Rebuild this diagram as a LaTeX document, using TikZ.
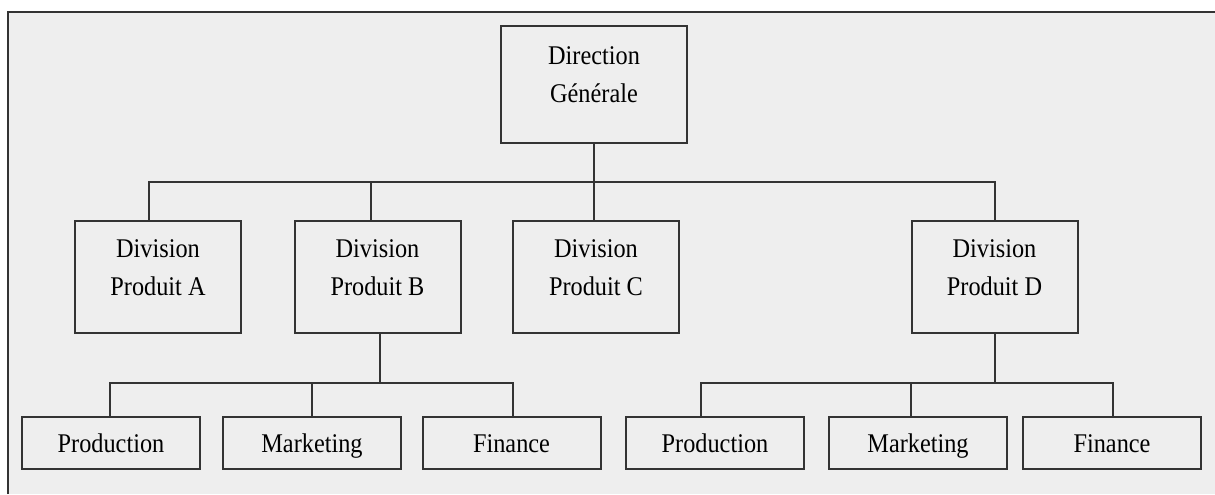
\documentclass[tikz,border=0pt]{standalone}
\usepackage{fontspec}
\setmainfont{Liberation Serif}[FakeStretch=0.9]
\definecolor{fond}{HTML}{EEEEEE}
\definecolor{trait}{HTML}{333333}
\tikzset{
  bloc/.style={draw=trait, line width=1pt, fill=fond, align=center, inner sep=0pt,
    font=\fontsize{13.5}{19}\selectfont},
  direction/.style={bloc, minimum width=93pt, minimum height=58.5pt, text height=28pt, text depth=10pt},
  division/.style={bloc, minimum width=83pt, minimum height=56pt, text height=28pt, text depth=10pt},
  service/.style={bloc, minimum width=89pt, minimum height=26pt, text height=9pt, text depth=0pt},
  lien/.style={draw=trait, line width=1pt}
}

\begin{document}
\begin{tikzpicture}[x=0.5pt, y=-0.5pt]
    \useasboundingbox (0,0) rectangle (1215,494);
    % cadre
    \fill[fond] (8,12) rectangle (1215,494);
    \draw[trait, line width=0.9pt] (8,494) -- (8,12) -- (1215,12);

    \node[direction] (dg) at (594,84.5) {Direction\\Générale};
    \foreach \nom / \x / \lettre in {da/158/A, db/377.5/B, dc/596/C, dd/994.5/D} {
      \node[division] (\nom) at (\x,277) {Division\\Produit \lettre};
    }
    \foreach \nom / \x / \texte in {pb1/111/Production, pb2/312/Marketing, pb3/511.5/Finance,
                                    pd1/715/Production, pd2/918/Marketing, pd3/1112/Finance} {
      \node[service] (\nom) at (\x,443) {\texte};
    }

    \coordinate (bus) at (0,181.5);
    \coordinate (busb) at (0,382.5);
    \coordinate (busd) at (0,382.5);

    % niveau 1
    \draw[lien] (dg.south) -- (dg.south |- dc.north);
    \draw[lien] ([xshift=-4.5pt]da.north) |- (bus -| dd.north) -- (dd.north);
    \draw[lien] ([xshift=-3.25pt]db.north) -- ([xshift=-3.25pt]db.north |- bus);

    % niveau 2
    \draw[lien] ([xshift=1pt]db.south) -- ([xshift=1pt]db.south |- busb);
    \draw[lien] ([xshift=-0.5pt]pb1.north) |- ([xshift=0.75pt]pb3.north |- busb) -- ([xshift=0.75pt]pb3.north);
    \draw[lien] (pb2.north) -- (pb2.north |- busb);
    \draw[lien] (dd.south) -- (dd.south |- busd);
    \draw[lien] ([xshift=-7pt]pd1.north) |- ([xshift=0.5pt]pd3.north |- busd) -- ([xshift=0.5pt]pd3.north);
    \draw[lien] ([xshift=-3.5pt]pd2.north) -- ([xshift=-3.5pt]pd2.north |- busd);
\end{tikzpicture}
\end{document}
